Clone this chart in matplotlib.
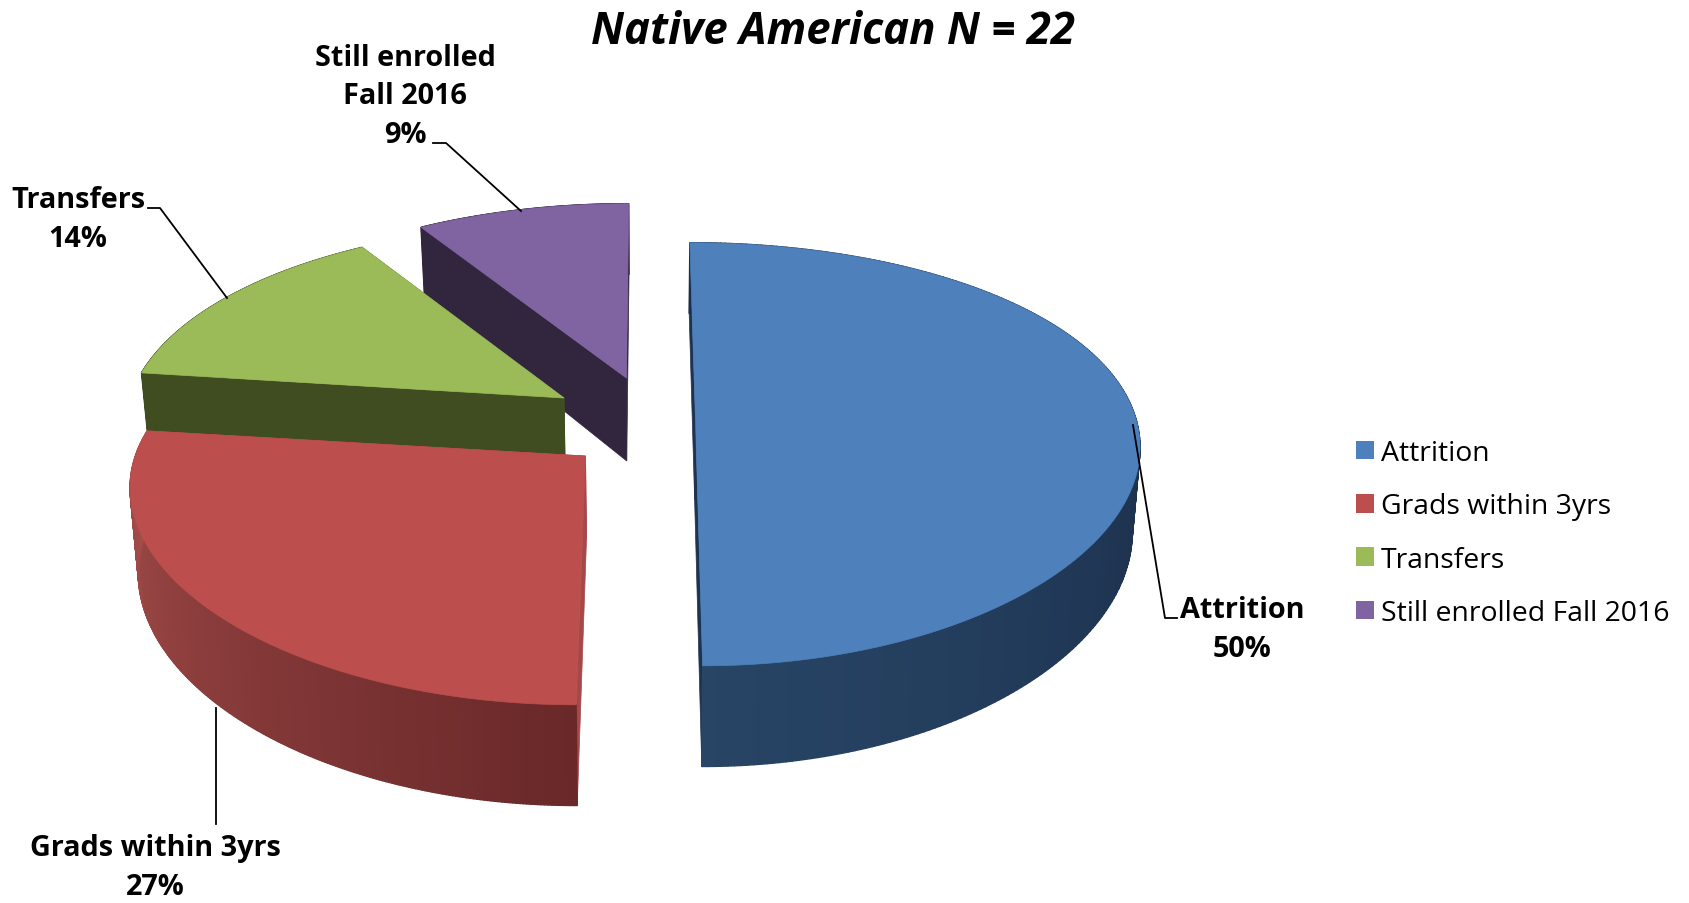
import numpy as np
import matplotlib.pyplot as plt
from matplotlib.collections import PolyCollection
from matplotlib.colors import to_rgb
from matplotlib.patches import Polygon, Patch

plt.rcParams['font.family'] = ['Open Sans', 'DejaVu Sans']

#%% Data
categories = ['Attrition', 'Grads within 3yrs', 'Transfers', 'Still enrolled Fall 2016']
values = [50, 27, 14, 9]
top_colors = ['#4e80bb', '#bc4f4d', '#9bbb59', '#8064a2']
wall_light = ['#284566', '#a8504d', '#3f4d20', '#32263f']
wall_dark = ['#1b2f4b', '#6a2829', '#3f4d20', '#32263f']
face_colors = ['#1d3350', '#a5484a', '#3f4d20', '#32263f']
# how far each slice is pulled out of the pie
explode_x = [0.110, -0.1365, -0.191, -0.048]
explode_y = [0.0, -0.175, 0.104, 0.207]
apex_y = [418, 457, 399, 379]

#%% Camera
VX = 647
A, B = 440, 205
K, KX = 0.176, 0.13
WALL = 83
SHRINK = 0.016
N = 240


def project(i, u, v, z=0.0):
    w = 1 + K*v
    sx = A*(explode_x[i] + u)/(1 + KX*(explode_y[i] + v))
    return VX + sx*(1 - SHRINK*z), apex_y[i] - B*v/w + WALL*z/w


#%%
fig = plt.figure(figsize=(16.9, 9.04), dpi=100)
ax = fig.add_axes([0, 0, 1, 1])
ax.set_xlim(0, 1690)
ax.set_ylim(904, 0)
ax.axis('off')

stops = 90 - np.cumsum([0] + values)*3.6
for i in [3, 2, 0, 1]:
    t = np.linspace(stops[i], stops[i + 1], N)
    us, vs = np.cos(np.radians(t)), np.sin(np.radians(t))

    # cut faces
    for k in [0, -1]:
        pts = [project(i, 0, 0), project(i, us[k], vs[k]),
               project(i, us[k], vs[k], 1), project(i, 0, 0, 1)]
        ax.add_patch(Polygon(pts, fc=face_colors[i], ec=face_colors[i], lw=0.5))

    # outer wall, shaded along the arc
    light, dark = np.array(to_rgb(wall_light[i])), np.array(to_rgb(wall_dark[i]))
    quads, cols = [], []
    for j in range(N - 1):
        quads.append([project(i, us[j], vs[j]), project(i, us[j + 1], vs[j + 1]),
                      project(i, us[j + 1], vs[j + 1], 1), project(i, us[j], vs[j], 1)])
        if i == 0:
            s = np.clip((t[j] + 90)/90, 0, 1)
        else:
            s = np.clip((t[j] + 187)/97, 0, 1)
        cols.append(light + (dark - light)*s)
    ax.add_collection(PolyCollection(quads, facecolors=cols, edgecolors=cols, linewidths=1.0))

    # top
    top = [project(i, 0, 0)] + [project(i, a, b) for a, b in zip(us, vs)]
    ax.add_patch(Polygon(top, fc=top_colors[i], ec=top_colors[i], lw=0.5))

#%% Leader lines
ax.plot([433, 446, 521], [144, 144, 212], 'k-', lw=1.3)
ax.plot([148, 160, 227], [209, 209, 299], 'k-', lw=1.3)
ax.plot([1133, 1165, 1177], [426, 619, 619], 'k-', lw=1.3)
ax.plot([216, 216], [709, 825], 'k-', lw=1.3)

#%% Labels
lab = dict(fontsize=20.8, fontweight='bold', ha='center', va='center', linespacing=1.45)
ax.text(405, 97, 'Still enrolled\nFall 2016\n%d%%' % values[3], **lab)
ax.text(78, 220, '%s\n%d%%' % (categories[2], values[2]), **lab)
ax.text(1242, 630, '%s\n%d%%' % (categories[0], values[0]), **lab)
ax.text(155, 868, '%s\n%d%%' % (categories[1], values[1]), **lab)

ax.text(833, 33, 'Native American N = 22', fontsize=31.5, fontweight='bold',
        fontstyle='italic', ha='center', va='center')

#%% Legend
handles = [Patch(fc=c, ec='none') for c in top_colors]
ax.legend(handles, categories, loc='center left', bbox_to_anchor=(1356/1690, 1 - 534/904),
          frameon=False, fontsize=20.4, labelspacing=0.89, handlelength=0.63, handleheight=0.63,
          handletextpad=0.25, borderpad=0, borderaxespad=0)

fig.savefig('out.png', dpi=100)
